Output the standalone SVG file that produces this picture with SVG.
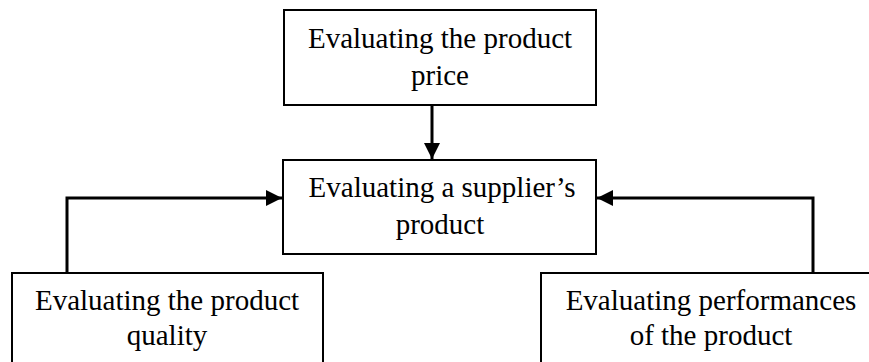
<svg xmlns="http://www.w3.org/2000/svg" width="869" height="362" viewBox="0 0 869 362">
<style>
.box{fill:#fff;stroke:#000;stroke-width:2}
.t{font-family:"Liberation Serif","Times New Roman",serif;font-size:29px;fill:#000;text-anchor:middle}
.c{fill:none;stroke:#000;stroke-width:3}
</style>
<defs>
<marker id="ah" markerWidth="16" markerHeight="16" viewBox="0 0 16 16" refX="16" refY="8" orient="auto" markerUnits="userSpaceOnUse">
<path d="M0,0 L16,8 L0,16 Z" fill="#000"/>
</marker>
</defs>
<rect width="869" height="362" fill="#fff"/>
<g id="connectors">
<path class="c" d="M432,106 L432,159" marker-end="url(#ah)"/>
<path class="c" d="M67,273 L67,198 L282,198" marker-end="url(#ah)"/>
<path class="c" d="M813,273 L813,198 L597,198" marker-end="url(#ah)"/>
</g>
<g id="price">
<rect class="box" x="284" y="10" width="312" height="95"/>
<text class="t" x="440" y="48">Evaluating the product</text>
<text class="t" x="440" y="85">price</text>
</g>
<g id="supplier">
<rect class="box" x="283" y="160" width="313" height="94"/>
<text class="t" x="442" y="197">Evaluating a supplier’s</text>
<text class="t" x="440" y="234">product</text>
</g>
<g id="quality">
<rect class="box" x="12" y="273" width="311" height="110"/>
<text class="t" x="167" y="310">Evaluating the product</text>
<text class="t" x="167" y="345">quality</text>
</g>
<g id="performance">
<rect class="box" x="541" y="273" width="340" height="110"/>
<text class="t" x="711" y="310">Evaluating performances</text>
<text class="t" x="711" y="345">of the product</text>
</g>
</svg>
